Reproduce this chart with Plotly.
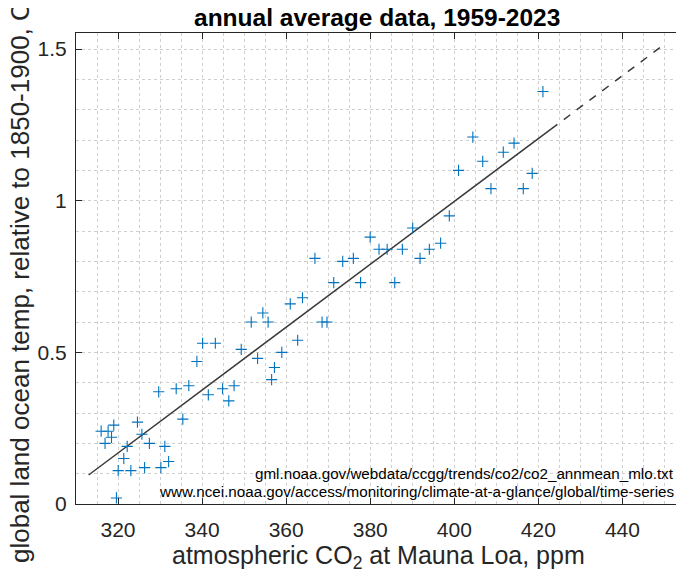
import numpy as np
import plotly.graph_objects as go

# Mauna Loa annual mean CO2 (ppm), 1959-2023
co2_ppm = [315.98, 316.91, 317.64, 318.45, 318.99, 319.62, 320.04, 321.37, 322.18, 323.05,
           324.62, 325.68, 326.32, 327.46, 329.68, 330.19, 331.13, 332.03, 333.84, 335.41,
           336.84, 338.76, 340.12, 341.48, 343.15, 344.87, 346.35, 347.61, 349.31, 351.69,
           353.20, 354.45, 355.70, 356.54, 357.21, 358.96, 360.97, 362.74, 363.88, 366.84,
           368.54, 369.71, 371.32, 373.45, 375.98, 377.70, 379.98, 382.09, 384.02, 385.83,
           387.64, 390.10, 391.85, 394.06, 396.74, 398.81, 401.01, 404.41, 406.76, 408.72,
           411.65, 414.21, 416.41, 418.53, 421.08]

# global land-ocean temperature anomaly relative to 1850-1900 (C)
temp_anom = [0.24, 0.20, 0.24, 0.22, 0.26, 0.02, 0.11, 0.15, 0.19, 0.11,
             0.27, 0.23, 0.12, 0.20, 0.37, 0.12, 0.19, 0.14, 0.38, 0.28,
             0.39, 0.47, 0.53, 0.36, 0.53, 0.38, 0.34, 0.39, 0.51, 0.60,
             0.48, 0.63, 0.60, 0.41, 0.45, 0.50, 0.66, 0.54, 0.68, 0.81,
             0.60, 0.60, 0.73, 0.80, 0.81, 0.73, 0.88, 0.84, 0.84, 0.73,
             0.84, 0.91, 0.81, 0.84, 0.86, 0.95, 1.10, 1.21, 1.13, 1.04,
             1.16, 1.19, 1.04, 1.09, 1.36]

x_ticks = [320, 340, 360, 380, 400, 420, 440]
y_ticks = [0, 0.5, 1, 1.5]
y_tick_labels = ["0", "0.5", "1", "1.5"]

fit_solid = [313, 423]
fit_dash = [423, 450]

slope, intercept = np.polyfit(co2_ppm, temp_anom, 1)

FONT = "Liberation Sans, Arial, Helvetica, sans-serif"
AX = "#262626"
GRID = "#cfcfcf"

# page body adds an 8px offset; margins compensate so the plot area lands where the reference has it
ML, MR, MT, MB = 68, 6, 25, 77
PW = 684 - ML - MR
PH = 573 - MT - MB


def px(sx):
    return (sx - 8 - ML) / PW


def py(sy):
    return (573 - MB - (sy - 8)) / PH


fig = go.Figure()
fig.add_trace(go.Scatter(
    x=fit_solid, y=[slope * v + intercept for v in fit_solid],
    mode="lines", line=dict(color="#3a3a3a", width=1.5), showlegend=False, hoverinfo="skip"))
fig.add_trace(go.Scatter(
    x=fit_dash, y=[slope * v + intercept for v in fit_dash],
    mode="lines", line=dict(color="#3a3a3a", width=1.5, dash="8px,8px"), showlegend=False, hoverinfo="skip"))
fig.add_trace(go.Scatter(
    x=co2_ppm, y=temp_anom, mode="markers",
    marker=dict(symbol="cross-thin", size=8, line=dict(color="#0072BD", width=1.1), color="#0072BD"),
    showlegend=False))

fig.update_layout(
    width=684, height=573,
    margin=dict(l=ML, r=MR, t=MT, b=MB),
    paper_bgcolor="white", plot_bgcolor="white",
    font=dict(family=FONT, color=AX),
    xaxis=dict(
        range=[310, 455.12], tickvals=x_ticks, ticks="inside", ticklen=6, tickcolor=AX,
        showline=True, linecolor=AX, linewidth=1, mirror="ticks",
        showgrid=True, gridcolor=GRID, griddash="dot", gridwidth=1,
        minor=dict(dtick=5, tick0=0, showgrid=True, gridcolor=GRID, griddash="dot", ticklen=0),
        tickfont=dict(size=21, family=FONT, color=AX), ticklabelstandoff=7, zeroline=False),
    yaxis=dict(
        range=[0, 1.553], tickvals=y_ticks, ticktext=y_tick_labels, ticks="inside", ticklen=6, tickcolor=AX,
        showline=True, linecolor=AX, linewidth=1, mirror="ticks",
        showgrid=True, gridcolor=GRID, griddash="dot", gridwidth=1,
        minor=dict(dtick=0.1, tick0=0, showgrid=True, gridcolor=GRID, griddash="dot", ticklen=0),
        tickfont=dict(size=21, family=FONT, color=AX), ticklabelstandoff=4, zeroline=False),
    annotations=[
        dict(text="<b>annual average data, 1959-2023</b>", xref="paper", yref="paper",
             x=px(377), y=py(17), xanchor="center", yanchor="middle",
             showarrow=False, font=dict(size=24.5, family=FONT, color="black")),
        dict(text="atmospheric CO<sub>2</sub> at Mauna Loa, ppm", xref="paper", yref="paper",
             x=px(378), y=py(557), xanchor="center", yanchor="middle",
             showarrow=False, font=dict(size=25, family=FONT, color=AX)),
        dict(text="global land ocean temp, relative to 1850-1900, C", xref="paper", yref="paper",
             x=px(20), y=py(283), xanchor="center", yanchor="middle",
             textangle=-90, showarrow=False, font=dict(size=26, family=FONT, color=AX)),
        dict(text="gml.noaa.gov/webdata/ccgg/trends/co2/co2_annmean_mlo.txt", xref="paper", yref="paper",
             x=px(676), y=py(473), xanchor="right", yanchor="middle",
             showarrow=False, font=dict(size=15.2, family=FONT, color="black")),
        dict(text="www.ncei.noaa.gov/access/monitoring/climate-at-a-glance/global/time-series", xref="paper", yref="paper",
             x=px(676), y=py(491.5), xanchor="right", yanchor="middle",
             showarrow=False, font=dict(size=15.2, family=FONT, color="black")),
    ],
)

fig.write_html("out.html")
